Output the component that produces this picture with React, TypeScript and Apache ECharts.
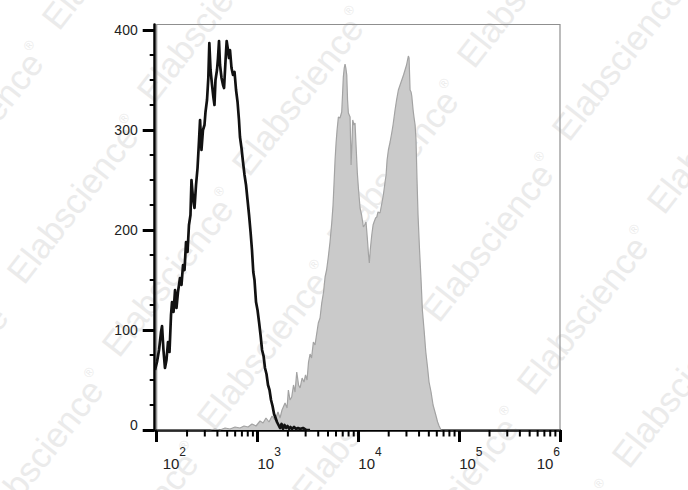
import React, { useEffect, useRef } from "react";
import * as echarts from "echarts";

// Isotype control (black outline): log10(fluorescence) and event counts
const isotypeLog = [
  1.983, 2.003, 2.023, 2.043, 2.053, 2.067, 2.082, 2.097, 2.112, 2.127, 2.142, 2.152,
  2.167, 2.182, 2.196, 2.211, 2.231, 2.246, 2.261, 2.276, 2.291, 2.306, 2.32, 2.335,
  2.345, 2.36, 2.375, 2.39, 2.405, 2.42, 2.43, 2.444, 2.459, 2.474, 2.484, 2.499,
  2.512, 2.522, 2.534, 2.549, 2.562, 2.573, 2.583, 2.598, 2.608, 2.618, 2.628, 2.643,
  2.658, 2.668, 2.683, 2.694, 2.707, 2.717, 2.727, 2.742, 2.757, 2.772, 2.787, 2.802,
  2.816, 2.826, 2.841, 2.856, 2.871, 2.886, 2.901, 2.916, 2.931, 2.945, 2.958, 2.97,
  2.985, 3.0, 3.015, 3.03, 3.045, 3.06, 3.074, 3.089, 3.104, 3.119, 3.134, 3.149,
  3.164, 3.179, 3.193, 3.208, 3.223, 3.238, 3.253, 3.268, 3.283, 3.298, 3.313, 3.327,
  3.342, 3.362, 3.382, 3.402, 3.422, 3.451, 3.481, 3.521,
];
const isotypeCount = [
  60, 68, 80, 98, 104, 80, 62, 70, 88, 78, 115, 128,
  118, 140, 122, 138, 152, 145, 165, 160, 188, 178, 205, 215,
  250, 232, 222, 245, 262, 290, 310, 280, 300, 305, 318, 330,
  352, 387, 360, 345, 333, 325, 350, 360, 372, 389, 365, 352,
  345, 342, 370, 389, 380, 372, 380, 362, 355, 358, 340, 328,
  310, 293, 282, 268, 255, 245, 230, 215, 198, 180, 158, 150,
  128, 120, 108, 95, 80, 74, 62, 56, 45, 40, 30, 24,
  16, 12, 8, 5, 2, 6, 1, 5, 2, 4, 1, 3,
  1, 3, 1, 2, 1, 2, 0, 0,
];

// Stained sample (grey filled): log10(fluorescence) and event counts
const stainedLog = [
  2.0, 2.529, 2.578, 2.628, 2.678, 2.727, 2.777, 2.826, 2.866, 2.906, 2.945, 2.985,
  3.025, 3.055, 3.084, 3.114, 3.144, 3.174, 3.203, 3.223, 3.243, 3.273, 3.293, 3.306,
  3.322, 3.339, 3.357, 3.372, 3.389, 3.407, 3.422, 3.442, 3.461, 3.476, 3.491, 3.506,
  3.521, 3.536, 3.554, 3.57, 3.585, 3.603, 3.62, 3.637, 3.655, 3.67, 3.685, 3.702,
  3.719, 3.736, 3.749, 3.759, 3.769, 3.779, 3.789, 3.802, 3.818, 3.835, 3.843, 3.851,
  3.86, 3.868, 3.876, 3.885, 3.893, 3.901, 3.918, 3.928, 3.938, 3.944, 3.957, 3.967,
  3.977, 3.99, 4.002, 4.017, 4.032, 4.05, 4.062, 4.076, 4.089, 4.101, 4.109, 4.118,
  4.133, 4.146, 4.156, 4.171, 4.183, 4.195, 4.215, 4.23, 4.248, 4.265, 4.275, 4.285,
  4.298, 4.315, 4.331, 4.344, 4.364, 4.379, 4.397, 4.414, 4.431, 4.448, 4.463, 4.478,
  4.488, 4.496, 4.503, 4.513, 4.523, 4.53, 4.543, 4.553, 4.563, 4.572, 4.582, 4.592,
  4.607, 4.622, 4.635, 4.652, 4.669, 4.687, 4.701, 4.721, 4.741, 4.768, 4.786, 4.801,
  4.82, 4.84, 6.0,
];
const stainedCount = [
  0, 0, 1, 0, 2, 1, 3, 2, 4, 3, 6, 4,
  9, 7, 12, 8, 14, 10, 18, 12, 20, 27, 22, 40,
  30, 33, 45, 38, 58, 45, 42, 52, 48, 55, 50, 68,
  76, 72, 88, 85, 95, 107, 112, 127, 138, 153, 160, 173,
  188, 207, 225, 247, 270, 287, 300, 313, 312, 318, 335, 353,
  362, 366, 362, 355, 330, 317, 313, 265, 290, 310, 305, 307,
  285, 257, 240, 222, 215, 203, 205, 208, 192, 175, 167, 180,
  195, 205, 208, 212, 213, 218, 217, 225, 235, 248, 255, 270,
  280, 288, 297, 305, 320, 330, 340, 345, 350, 355, 360, 365,
  370, 374, 372, 340, 338, 334, 320, 312, 305, 290, 250, 215,
  180, 150, 120, 100, 78, 62, 48, 38, 25, 15, 8, 4,
  0, 0, 0,
];

const xDecades = [2, 3, 4, 5, 6];
const yTickValues = [0, 100, 200, 300, 400];
const yMinorValues = [25, 50, 75, 125, 150, 175, 225, 250, 275, 325, 350, 375];
const minorMultipliers = [2, 3, 4, 5, 6, 7, 8, 9];
const watermarkWord = "Elabscience";
const watermarkMark = "®";

export default function App() {
  const ref = useRef<HTMLDivElement>(null);

  useEffect(() => {
    document.body.style.margin = "0";
    if (!ref.current) return;
    const chart = echarts.init(ref.current, undefined, { renderer: "svg" });

    const xMinor: number[] = [];
    xDecades.slice(0, -1).forEach((d) => {
      minorMultipliers.forEach((k) => xMinor.push(d + Math.log10(k)));
    });

    const isoData = isotypeLog.map((e, i) => [e, isotypeCount[i]]);
    const stainData = stainedLog.map((e, i) => [e, stainedCount[i]]);

    const wm: any[] = [];
    const ang = (52 * Math.PI) / 180;
    for (let i = -8; i <= 10; i++) {
      for (let j = -6; j <= 8; j++) {
        const x = 158 + i * 95 + j * 130;
        const y = 108 + i * 73 - j * 181;
        if (x < -240 || x > 690 || y < -5 || y > 680) continue;
        wm.push({
          type: "text",
          x,
          y,
          rotation: ang,
          z: -10,
          silent: true,
          style: {
            text: `{a|${watermarkWord}}{r|${watermarkMark}}`,
            align: "left",
            verticalAlign: "bottom",
            rich: {
              a: { fontSize: 35, fontFamily: "Arial", fill: "#ebebeb", lineHeight: 36, verticalAlign: "bottom" },
              r: { fontSize: 13, fontFamily: "Arial", fill: "#ebebeb", lineHeight: 13, verticalAlign: "top" },
            },
          },
        });
      }
    }

    const option: any = {
      animation: false,
      backgroundColor: "#ffffff",
      grid: {
        left: 156.7,
        right: 128,
        top: 24.5,
        bottom: 60,
        show: true,
        borderColor: "#8f8f8f",
        borderWidth: 1.2,
        backgroundColor: "transparent",
      },
      xAxis: [
        {
          type: "value",
          min: 2,
          max: 6,
          interval: 1,
          position: "bottom",
          axisLine: { onZero: false, lineStyle: { color: "#000", width: 2.5 } },
          axisTick: { length: 12, lineStyle: { color: "#000", width: 3 } },
          splitLine: { show: false },
          axisLabel: {
            margin: 16,
            align: "left",
            alignMaxLabel: "right",
            formatter: (v: number) => {
              const n = Math.round(v);
              return n === 2 ? `{b0|10}{s|${n}}` : `{b|10}{s|${n}}`;
            },
            rich: {
              b: { fontSize: 15, lineHeight: 25, verticalAlign: "bottom", color: "#222", fontFamily: "Arial" },
              b0: { fontSize: 15, lineHeight: 25, verticalAlign: "bottom", color: "#222", fontFamily: "Arial", padding: [0, 0, 0, 6] },
              s: { fontSize: 12, lineHeight: 12, verticalAlign: "top", color: "#222", fontFamily: "Arial" },
            },
          },
        },
      ],
      yAxis: [
        {
          type: "value",
          min: 0,
          max: 405.5,
          position: "left",
          offset: 2,
          axisLine: { show: true, onZero: false, lineStyle: { color: "#000", width: 2.5 } },
          axisTick: { show: true, customValues: yTickValues, length: 12, lineStyle: { color: "#000", width: 3 } },
          splitLine: { show: false },
          axisLabel: {
            customValues: yTickValues,
            margin: 17,
            fontSize: 14,
            color: "#222",
            fontFamily: "Arial",
            formatter: (v: number) => (v === 0 ? "{z|0}" : v % 100 === 0 ? String(v) : ""),
            rich: { z: { fontSize: 14, color: "#222", fontFamily: "Arial", padding: [0, 0, 10, 0] } },
          },
        },
        {
          type: "value",
          min: 0,
          max: 405.5,
          position: "left",
          offset: 2,
          axisLine: { show: false, onZero: false },
          axisLabel: { show: false },
          splitLine: { show: false },
          axisTick: { show: true, customValues: yMinorValues, length: 5, lineStyle: { color: "#000", width: 2 } },
        },
      ],
      series: [
        {
          type: "line",
          name: "Stained",
          data: stainData,
          xAxisIndex: 0,
          yAxisIndex: 0,
          symbol: "none",
          z: 3,
          lineStyle: { color: "#a3a3a3", width: 1.2 },
          areaStyle: { color: "#cacaca", opacity: 1 },
        },
        {
          type: "line",
          name: "Isotype",
          data: isoData,
          xAxisIndex: 0,
          yAxisIndex: 0,
          symbol: "none",
          z: 4,
          lineStyle: { color: "#111", width: 2.7, join: "round" },
        },
        {
          type: "custom",
          name: "minorTicks",
          xAxisIndex: 0,
          yAxisIndex: 0,
          clip: false,
          silent: true,
          z: 5,
          data: xMinor.map((v) => [v, 0]),
          renderItem: (params: any, api: any) => {
            const p = api.coord([api.value(0), 0]);
            return {
              type: "line",
              shape: { x1: p[0], y1: p[1], x2: p[0], y2: p[1] + 6.5 },
              style: { stroke: "#000", lineWidth: 2 },
            };
          },
        },
      ],
      graphic: { elements: wm },
    };

    chart.setOption(option);
    return () => chart.dispose();
  }, []);

  return (
    <div
      ref={ref}
      style={{ position: "fixed", left: 0, top: 0, width: 688, height: 490 }}
    />
  );
}
